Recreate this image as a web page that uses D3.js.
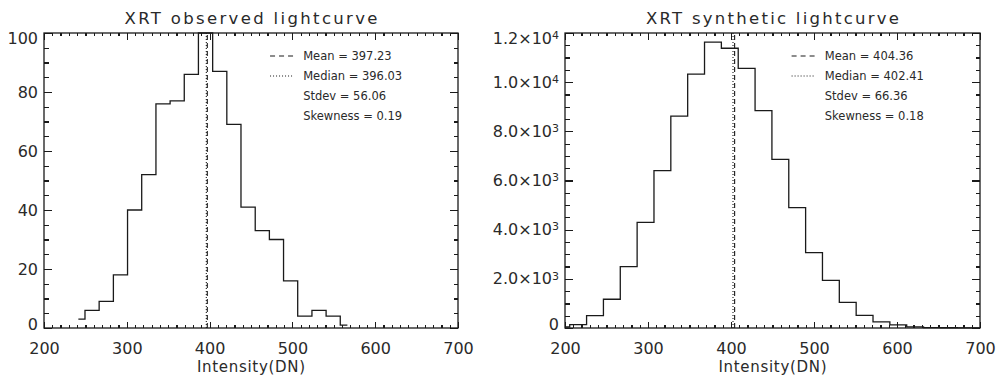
<!DOCTYPE html>
<meta charset="utf-8">
<head>
<style>
  body { margin: 0; background: #fff; }
  text { font-family: "DejaVu Sans", sans-serif; fill: #2a2a2a; }
  .box { fill: none; stroke: #1a1a1a; stroke-width: 1.3; }
  .axis path { display: none; }
  .axis line { stroke: #1a1a1a; stroke-width: 1.2; shape-rendering: crispEdges; }
  .axis text { font-size: 16px; fill: #2a2a2a; }
  .hist { fill: none; stroke: #1a1a1a; stroke-width: 1.3; }
</style>
</head>
<body>
<script src="https://d3js.org/d3.v7.min.js"></script>
<script>
// observed lightcurve histogram (bin edges in DN, counts)
var obsEdges = [241.5, 249.5, 266.6, 283.8, 300.9, 318.0, 335.2, 352.3, 369.4, 386.5, 403.7,
                420.8, 437.9, 455.1, 472.2, 489.3, 506.4, 523.6, 540.7, 557.8, 566.4];
var obsCounts = [3, 6, 9, 18, 40, 52, 76, 77, 86, 100, 87, 69, 41, 33, 30, 16, 4, 6, 4, 1];

// synthetic lightcurve histogram
var synEdges = [200, 205.7, 226.0, 246.3, 266.6, 286.9, 307.2, 327.5, 347.8, 368.1, 388.4,
                408.7, 429.0, 449.3, 469.6, 489.9, 510.2, 530.5, 550.8, 571.1, 591.4,
                611.7, 632.0, 652.3, 672.6, 692.9, 700];
var synCounts = [40, 140, 500, 1170, 2500, 4300, 6400, 8620, 10330, 11630, 11380, 10560,
                 8840, 6860, 4900, 3070, 1940, 1040, 510, 250, 130, 45, 18, 10, 5, 3];

var xTicks = [200, 300, 400, 500, 600, 700];
var obsYTicks = [0, 20, 40, 60, 80, 100];
var synYTicks = [0, 2000, 4000, 6000, 8000, 10000, 12000];
var synYLabels = ["0", "2.0×10^3", "4.0×10^3", "6.0×10^3", "8.0×10^3", "1.0×10^4", "1.2×10^4"];

var obsStats = [397.23, 396.03, 56.06, 0.19];   // mean, median, stdev, skewness
var synStats = [404.36, 402.41, 66.36, 0.18];

var svg = d3.select("body").append("svg")
    .attr("width", 997)
    .attr("height", 377);

svg.append("rect").attr("width", 997).attr("height", 377).attr("fill", "#fff");

function drawPanel(p) {
  var x = d3.scaleLinear().domain([200, 700]).range([p.left, p.right]);
  var y = d3.scaleLinear().domain([0, p.ymax]).range([p.bottom, p.top]);
  var g = svg.append("g");

  // minor ticks
  var xMinor = d3.range(200, 701, 10);
  var yMinor = d3.range(0, p.ymax + 1, p.yminor);
  g.append("g").attr("class", "axis").attr("transform", "translate(0," + p.bottom + ")")
    .call(d3.axisBottom(x).tickValues(xMinor).tickSize(-3).tickFormat(""));
  g.append("g").attr("class", "axis").attr("transform", "translate(0," + p.top + ")")
    .call(d3.axisTop(x).tickValues(xMinor).tickSize(-3).tickFormat(""));
  g.append("g").attr("class", "axis").attr("transform", "translate(" + p.left + ",0)")
    .call(d3.axisLeft(y).tickValues(yMinor).tickSize(-4.5).tickFormat(""));
  g.append("g").attr("class", "axis").attr("transform", "translate(" + p.right + ",0)")
    .call(d3.axisRight(y).tickValues(yMinor).tickSize(-4.5).tickFormat(""));

  // major ticks
  g.append("g").attr("class", "axis").attr("transform", "translate(0," + p.bottom + ")")
    .call(d3.axisBottom(x).tickValues(xTicks).tickSize(-6.5).tickPadding(15).tickFormat(d3.format("d")));
  g.append("g").attr("class", "axis").attr("transform", "translate(0," + p.top + ")")
    .call(d3.axisTop(x).tickValues(xTicks).tickSize(-6.5).tickFormat(""));
  var ya = g.append("g").attr("class", "axis").attr("transform", "translate(" + p.left + ",0)")
    .call(d3.axisLeft(y).tickValues(p.yticks).tickSize(-8).tickPadding(6)
      .tickFormat(function(d, i) { return p.ylabels[i]; }));
  g.append("g").attr("class", "axis").attr("transform", "translate(" + p.right + ",0)")
    .call(d3.axisRight(y).tickValues(p.yticks).tickSize(-8).tickFormat(""));

  // keep end labels inside the box height, add superscripts
  ya.selectAll("text").each(function(d) {
    var t = d3.select(this);
    if (d === p.ymax) t.attr("y", 5);
    if (d === 0) t.attr("y", -3.5);
    var s = t.text();
    if (s.indexOf("^") >= 0) {
      var parts = s.split("^");
      t.text(null);
      t.append("tspan").text(parts[0]);
      t.append("tspan").attr("dy", "-0.45em").style("font-size", "11px").text(parts[1]);
    }
  });

  // histogram
  var pts = p.counts.map(function(c, i) { return [p.edges[i], c]; });
  pts.push([p.edges[p.edges.length - 1], p.counts[p.counts.length - 1]]);
  var line = d3.line()
    .x(function(d) { return x(d[0]); })
    .y(function(d) { return y(d[1]); })
    .curve(d3.curveStepAfter);
  g.append("path").attr("class", "hist").attr("d", line(pts));

  // mean (dashed) and median (dotted)
  g.append("line")
    .attr("x1", x(p.stats[0])).attr("x2", x(p.stats[0]))
    .attr("y1", y(0)).attr("y2", y(p.ymax))
    .attr("stroke", "#1a1a1a").attr("stroke-width", 1.1).attr("stroke-dasharray", "5,3");
  g.append("line")
    .attr("x1", x(p.stats[1])).attr("x2", x(p.stats[1]))
    .attr("y1", y(0)).attr("y2", y(p.ymax))
    .attr("stroke", "#1a1a1a").attr("stroke-width", 1.1).attr("stroke-dasharray", "1,2");

  // box
  g.append("rect").attr("class", "box")
    .attr("x", p.left).attr("y", p.top)
    .attr("width", p.right - p.left).attr("height", p.bottom - p.top);

  // legend
  var legend = [
    "Mean = " + p.stats[0].toFixed(2),
    "Median = " + p.stats[1].toFixed(2),
    "Stdev = " + p.stats[2].toFixed(2),
    "Skewness = " + p.stats[3].toFixed(2)
  ];
  var dashes = ["5,4", "1,2"];
  legend.forEach(function(s, i) {
    var ly = 56 + i * 20;
    if (i < 2) {
      g.append("line")
        .attr("x1", x(473)).attr("x2", x(501))
        .attr("y1", ly).attr("y2", ly)
        .attr("stroke", "#1a1a1a").attr("stroke-width", 1.1)
        .attr("stroke-dasharray", dashes[i]);
    }
    g.append("text")
      .attr("x", x(513)).attr("y", ly + 4.2)
      .style("font-size", "11.5px")
      .text(s);
  });

  // title and axis label
  g.append("text")
    .attr("x", (p.left + p.right) / 2).attr("y", 24)
    .attr("text-anchor", "middle")
    .attr("textLength", 253).attr("lengthAdjust", "spacing")
    .style("font-size", "16.5px")
    .text(p.title);
  g.append("text")
    .attr("x", (p.left + p.right) / 2).attr("y", 372)
    .attr("text-anchor", "middle")
    .attr("textLength", 108).attr("lengthAdjust", "spacing")
    .style("font-size", "15px")
    .text("Intensity(DN)");
}

drawPanel({
  left: 44, right: 458, top: 33, bottom: 328,
  ymax: 100, yminor: 5, yticks: obsYTicks,
  ylabels: obsYTicks.map(String),
  edges: obsEdges, counts: obsCounts, stats: obsStats,
  title: "XRT observed lightcurve"
});

drawPanel({
  left: 565, right: 980, top: 33, bottom: 328,
  ymax: 12000, yminor: 500, yticks: synYTicks,
  ylabels: synYLabels,
  edges: synEdges, counts: synCounts, stats: synStats,
  title: "XRT synthetic lightcurve"
});
</script>
</body>
